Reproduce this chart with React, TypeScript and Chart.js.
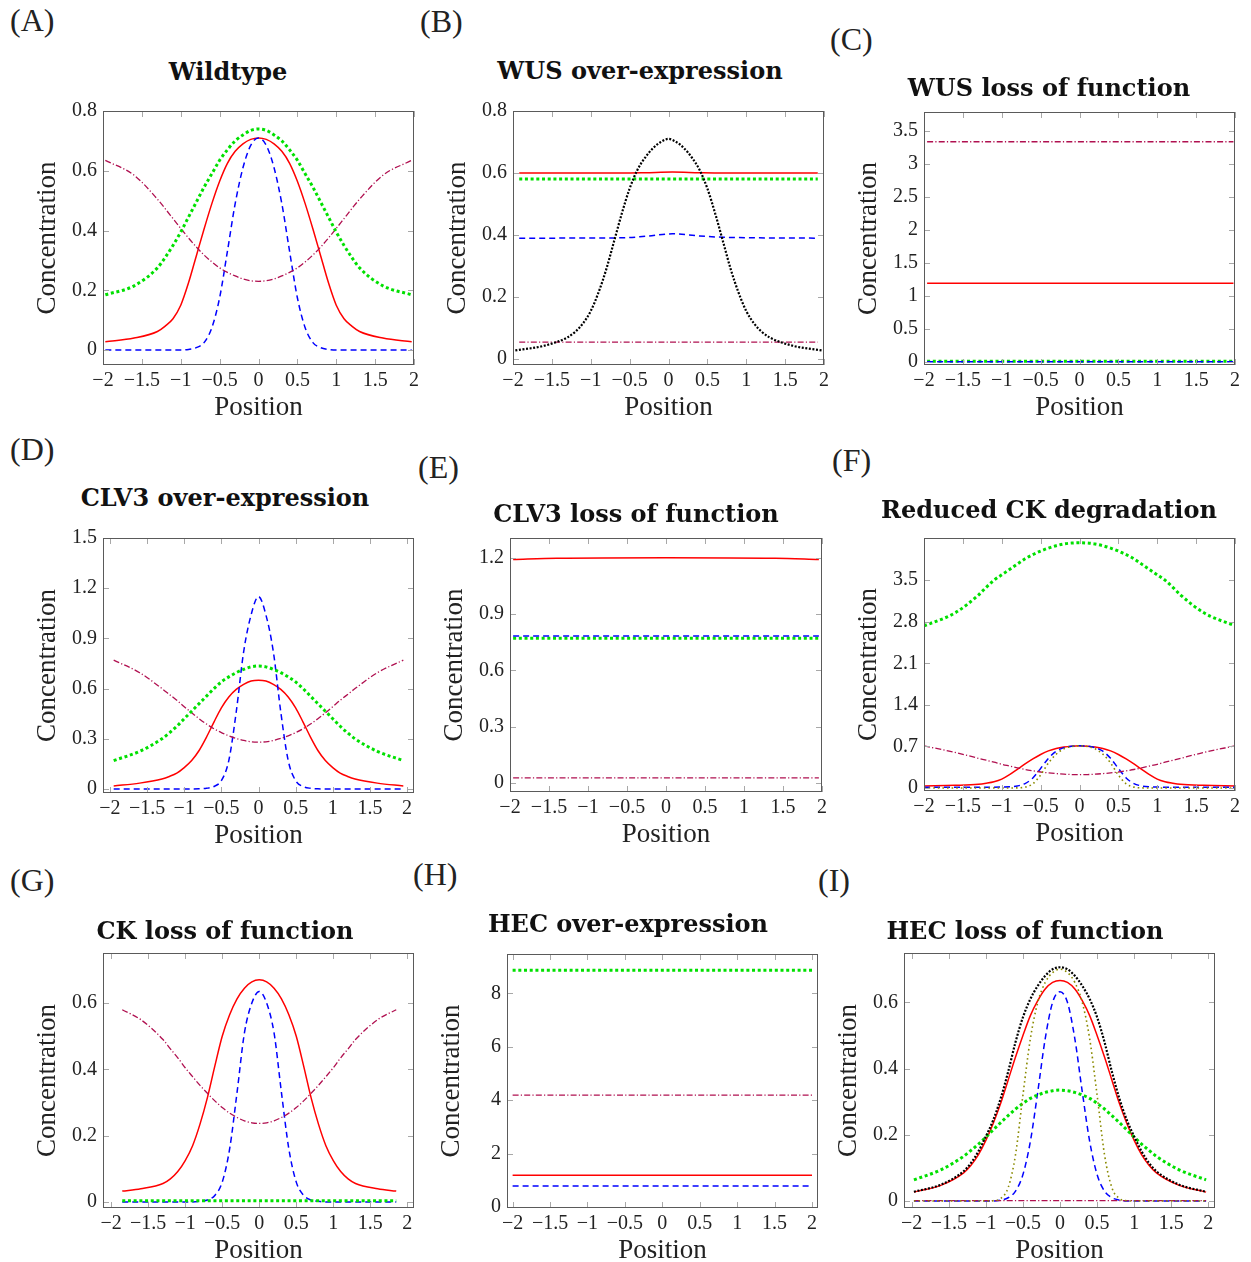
import React, { useEffect, useRef } from 'react';
import { Chart, registerables } from 'chart.js';

Chart.register(...registerables);

// ---------- x grids ----------
const X_GRID = [-2, -1.6, -1.3, -1.2, -1.1, -1, -0.9, -0.8, -0.7, -0.6, -0.5, -0.4, -0.3, -0.2, -0.1, 0, 0.1, 0.2, 0.3, 0.4, 0.5, 0.6, 0.7, 0.8, 0.9, 1, 1.1, 1.2, 1.3, 1.6, 2];
const X_GRID_197 = [-1.97, -1.6, -1.3, -1.2, -1.1, -1, -0.9, -0.8, -0.7, -0.6, -0.5, -0.4, -0.3, -0.2, -0.1, 0, 0.1, 0.2, 0.3, 0.4, 0.5, 0.6, 0.7, 0.8, 0.9, 1, 1.1, 1.2, 1.3, 1.6, 1.97];
const X_GRID_195 = [-1.95, -1.6, -1.3, -1.2, -1.1, -1, -0.9, -0.8, -0.7, -0.6, -0.5, -0.4, -0.3, -0.2, -0.1, 0, 0.1, 0.2, 0.3, 0.4, 0.5, 0.6, 0.7, 0.8, 0.9, 1, 1.1, 1.2, 1.3, 1.6, 1.95];
const X_GRID_185 = [-1.85, -1.6, -1.3, -1.2, -1.1, -1, -0.9, -0.8, -0.7, -0.6, -0.5, -0.4, -0.3, -0.2, -0.1, 0, 0.1, 0.2, 0.3, 0.4, 0.5, 0.6, 0.7, 0.8, 0.9, 1, 1.1, 1.2, 1.3, 1.6, 1.85];

// ---------- tick labels ----------
const X_TICKS = [-2, -1.5, -1, -0.5, 0, 0.5, 1, 1.5, 2];
const Y_TICKS_02 = [0, 0.2, 0.4, 0.6, 0.8];
const Y_TICKS_C = [0, 0.5, 1, 1.5, 2, 2.5, 3, 3.5];
const Y_TICKS_03 = [0, 0.3, 0.6, 0.9, 1.2, 1.5];
const Y_TICKS_E = [0, 0.3, 0.6, 0.9, 1.2];
const Y_TICKS_F = [0, 0.7, 1.4, 2.1, 2.8, 3.5];
const Y_TICKS_H = [0, 2, 4, 6, 8];
const Y_TICKS_06 = [0, 0.2, 0.4, 0.6];

// ---------- (A) Wildtype ----------
const A_RED = [0.028, 0.04, 0.062, 0.08, 0.105, 0.15, 0.225, 0.315, 0.405, 0.49, 0.565, 0.625, 0.665, 0.69, 0.705, 0.71, 0.705, 0.69, 0.665, 0.625, 0.565, 0.49, 0.405, 0.315, 0.225, 0.15, 0.105, 0.08, 0.062, 0.04, 0.028];
const A_BLUE = [0, 0, 0, 0, 0, 0, 0.002, 0.008, 0.025, 0.075, 0.175, 0.33, 0.49, 0.61, 0.685, 0.71, 0.685, 0.61, 0.49, 0.33, 0.175, 0.075, 0.025, 0.008, 0.002, 0, 0, 0, 0, 0, 0];
const A_GREEN = [0.185, 0.215, 0.275, 0.31, 0.35, 0.395, 0.445, 0.495, 0.545, 0.59, 0.635, 0.67, 0.7, 0.72, 0.735, 0.74, 0.735, 0.72, 0.7, 0.67, 0.635, 0.59, 0.545, 0.495, 0.445, 0.395, 0.35, 0.31, 0.275, 0.215, 0.185];
const A_PURPLE = [0.635, 0.585, 0.505, 0.473, 0.44, 0.407, 0.375, 0.345, 0.318, 0.295, 0.275, 0.26, 0.248, 0.238, 0.232, 0.23, 0.232, 0.238, 0.248, 0.26, 0.275, 0.295, 0.318, 0.345, 0.375, 0.407, 0.44, 0.473, 0.505, 0.585, 0.635];

// ---------- (B) WUS over-expression ----------
const B_BLACK = [0.028, 0.043, 0.07, 0.088, 0.115, 0.155, 0.215, 0.29, 0.38, 0.47, 0.55, 0.61, 0.65, 0.68, 0.7, 0.71, 0.7, 0.68, 0.65, 0.61, 0.55, 0.47, 0.38, 0.29, 0.215, 0.155, 0.115, 0.088, 0.07, 0.043, 0.028];
const X_B_FLAT = [-1.92, 1.92];
const X_B_BUMP = [-1.92, -0.6, -0.3, 0.05, 0.4, 0.7, 1.92];
const B_RED = [0.6, 0.6, 0.601, 0.603, 0.601, 0.6, 0.6];
const B_BLUE = [0.39, 0.391, 0.396, 0.404, 0.397, 0.393, 0.39];
const B_GREEN = [0.581, 0.581];
const B_PURPLE = [0.055, 0.055];

// ---------- (C) WUS loss of function ----------
const X_C = [-1.96, 1.98];
const C_PURPLE = [3.33, 3.33];
const C_RED = [1.19, 1.19];
const C_GREEN = [0.012, 0.012];
const C_BLUE = [0.004, 0.004];

// ---------- (D) CLV3 over-expression ----------
const D_RED = [0.018, 0.035, 0.06, 0.075, 0.095, 0.128, 0.17, 0.23, 0.31, 0.4, 0.485, 0.55, 0.595, 0.625, 0.645, 0.65, 0.645, 0.625, 0.595, 0.55, 0.485, 0.4, 0.31, 0.23, 0.17, 0.128, 0.095, 0.075, 0.06, 0.035, 0.018];
const D_BLUE = [0, 0, 0, 0, 0, 0, 0, 0.001, 0.004, 0.015, 0.05, 0.17, 0.46, 0.82, 1.04, 1.15, 1.04, 0.82, 0.46, 0.17, 0.05, 0.015, 0.004, 0.001, 0, 0, 0, 0, 0, 0, 0];
const D_GREEN = [0.17, 0.225, 0.3, 0.335, 0.375, 0.42, 0.465, 0.51, 0.555, 0.6, 0.64, 0.67, 0.695, 0.715, 0.73, 0.735, 0.73, 0.715, 0.695, 0.67, 0.64, 0.6, 0.555, 0.51, 0.465, 0.42, 0.375, 0.335, 0.3, 0.225, 0.17];
const D_PURPLE = [0.77, 0.695, 0.6, 0.565, 0.53, 0.492, 0.455, 0.42, 0.388, 0.36, 0.337, 0.318, 0.302, 0.29, 0.282, 0.28, 0.282, 0.29, 0.302, 0.318, 0.337, 0.36, 0.388, 0.42, 0.455, 0.492, 0.53, 0.565, 0.6, 0.695, 0.77];

// ---------- (E) CLV3 loss of function ----------
const X_E = [-1.96, 1.96];
const X_E_RED = [-1.96, -1.4, 0, 1.4, 1.96];
const E_RED = [1.19, 1.197, 1.2, 1.197, 1.19];
const E_BLUE = [0.783, 0.783];
const E_GREEN = [0.772, 0.772];
const E_PURPLE = [0.028, 0.028];

// ---------- (F) Reduced CK degradation ----------
const F_GREEN = [2.73, 2.95, 3.25, 3.38, 3.5, 3.59, 3.68, 3.77, 3.86, 3.93, 3.99, 4.04, 4.08, 4.11, 4.125, 4.13, 4.125, 4.11, 4.08, 4.04, 3.99, 3.93, 3.86, 3.77, 3.68, 3.59, 3.5, 3.38, 3.25, 2.95, 2.73];
const F_RED = [0.035, 0.045, 0.062, 0.08, 0.105, 0.15, 0.225, 0.315, 0.405, 0.49, 0.565, 0.625, 0.665, 0.69, 0.705, 0.71, 0.705, 0.69, 0.665, 0.625, 0.565, 0.49, 0.405, 0.315, 0.225, 0.15, 0.105, 0.08, 0.062, 0.045, 0.035];
const F_BLUE = [0.015, 0.015, 0.015, 0.015, 0.015, 0.016, 0.02, 0.035, 0.075, 0.17, 0.33, 0.5, 0.62, 0.68, 0.705, 0.71, 0.705, 0.68, 0.62, 0.5, 0.33, 0.17, 0.075, 0.035, 0.02, 0.016, 0.015, 0.015, 0.015, 0.015, 0.015];
const F_OLIVE = [0, 0, 0, 0, 0, 0, 0, 0.003, 0.015, 0.07, 0.22, 0.42, 0.57, 0.66, 0.7, 0.71, 0.7, 0.66, 0.57, 0.42, 0.22, 0.07, 0.015, 0.003, 0, 0, 0, 0, 0, 0, 0];
const F_PURPLE = [0.71, 0.6, 0.5, 0.468, 0.435, 0.4, 0.37, 0.34, 0.312, 0.29, 0.27, 0.255, 0.243, 0.233, 0.227, 0.225, 0.227, 0.233, 0.243, 0.255, 0.27, 0.29, 0.312, 0.34, 0.37, 0.4, 0.435, 0.468, 0.5, 0.6, 0.71];

// ---------- (G) CK loss of function ----------
const G_RED = [0.033, 0.04, 0.056, 0.07, 0.092, 0.125, 0.17, 0.235, 0.315, 0.41, 0.5, 0.565, 0.613, 0.645, 0.664, 0.67, 0.664, 0.645, 0.613, 0.565, 0.5, 0.41, 0.315, 0.235, 0.17, 0.125, 0.092, 0.07, 0.056, 0.04, 0.033];
const G_BLUE = [0, 0, 0, 0, 0, 0, 0, 0.002, 0.006, 0.02, 0.06, 0.16, 0.33, 0.51, 0.6, 0.635, 0.6, 0.51, 0.33, 0.16, 0.06, 0.02, 0.006, 0.002, 0, 0, 0, 0, 0, 0, 0];
const G_PURPLE = [0.58, 0.55, 0.49, 0.462, 0.435, 0.405, 0.378, 0.352, 0.328, 0.305, 0.285, 0.268, 0.255, 0.245, 0.239, 0.237, 0.239, 0.245, 0.255, 0.268, 0.285, 0.305, 0.328, 0.352, 0.378, 0.405, 0.435, 0.462, 0.49, 0.55, 0.58];
const X_G_FLAT = [-1.85, 1.85];
const G_GREEN = [0.004, 0.004];

// ---------- (H) HEC over-expression ----------
const X_H = [-2, 2];
const H_GREEN = [8.87, 8.87];
const H_PURPLE = [4.19, 4.19];
const H_RED = [1.19, 1.19];
const H_BLUE = [0.78, 0.78];

// ---------- (I) HEC loss of function ----------
const I_BLACK = [0.028, 0.05, 0.09, 0.115, 0.15, 0.195, 0.245, 0.31, 0.39, 0.48, 0.555, 0.61, 0.65, 0.68, 0.7, 0.706, 0.7, 0.68, 0.65, 0.61, 0.555, 0.48, 0.39, 0.31, 0.245, 0.195, 0.15, 0.115, 0.09, 0.05, 0.028];
const I_RED = [0.027, 0.048, 0.085, 0.108, 0.14, 0.183, 0.235, 0.295, 0.365, 0.435, 0.5, 0.56, 0.605, 0.64, 0.66, 0.666, 0.66, 0.64, 0.605, 0.56, 0.5, 0.435, 0.365, 0.295, 0.235, 0.183, 0.14, 0.108, 0.085, 0.048, 0.027];
const I_OLIVE = [0, 0, 0, 0, 0, 0, 0.001, 0.008, 0.04, 0.14, 0.32, 0.49, 0.6, 0.66, 0.69, 0.7, 0.69, 0.66, 0.6, 0.49, 0.32, 0.14, 0.04, 0.008, 0.001, 0, 0, 0, 0, 0, 0];
const I_BLUE = [0, 0, 0, 0, 0, 0, 0, 0.003, 0.01, 0.03, 0.08, 0.18, 0.33, 0.49, 0.6, 0.632, 0.6, 0.49, 0.33, 0.18, 0.08, 0.03, 0.01, 0.003, 0, 0, 0, 0, 0, 0, 0];
const I_GREEN = [0.064, 0.095, 0.135, 0.153, 0.172, 0.193, 0.215, 0.237, 0.258, 0.278, 0.295, 0.31, 0.32, 0.328, 0.333, 0.335, 0.333, 0.328, 0.32, 0.31, 0.295, 0.278, 0.258, 0.237, 0.215, 0.193, 0.172, 0.153, 0.135, 0.095, 0.064];
const X_I_FLAT = [-1.97, 1.97];
const I_PURPLE = [0.001, 0.001];

// ---------- styles ----------
const SERIF = '"Liberation Serif", "Times New Roman", serif';
const TITLE_FONT = '"DejaVu Serif", serif';
const LINE_STYLES: Record<string, any> = {
  red: { borderColor: '#ff0000', borderWidth: 1.5, borderDash: [] },
  blue: { borderColor: '#0000ff', borderWidth: 1.5, borderDash: [6, 4] },
  green: { borderColor: '#00e000', borderWidth: 3, borderDash: [3, 2.7] },
  purple: { borderColor: '#b01050', borderWidth: 1.3, borderDash: [6, 2.2, 1.2, 2.2] },
  black: { borderColor: '#000000', borderWidth: 2.2, borderDash: [2, 1.6] },
  olive: { borderColor: '#8a8a00', borderWidth: 1.6, borderDash: [1.6, 3] },
};

const PAD_L = 75;
const PAD_T = 14;
const PAD_R = 18;
const PAD_B = 60;

type Panel = {
  letter: string;
  title: string;
  box: [number, number, number, number];
  xr: [number, number];
  yr: [number, number];
  yTicks: number[];
  letterAt: [number, number];
  titleAt: [number, number];
  series: [string, number[], number[]][];
};

const PANELS: Panel[] = [
  {
    letter: '(A)', title: 'Wildtype', box: [103, 107, 414, 365], xr: [-2, 2], yr: [-0.05, 0.8], yTicks: Y_TICKS_02,
    letterAt: [10, 31], titleAt: [228, 80],
    series: [['green', X_GRID_197, A_GREEN], ['purple', X_GRID_197, A_PURPLE], ['blue', X_GRID_197, A_BLUE], ['red', X_GRID_197, A_RED]],
  },
  {
    letter: '(B)', title: 'WUS over-expression', box: [513, 107, 824, 365], xr: [-2, 2], yr: [-0.019, 0.8], yTicks: Y_TICKS_02,
    letterAt: [420, 32], titleAt: [640, 79],
    series: [['black', X_GRID_197, B_BLACK], ['purple', X_B_FLAT, B_PURPLE], ['green', X_B_FLAT, B_GREEN], ['blue', X_B_BUMP, B_BLUE], ['red', X_B_BUMP, B_RED]],
  },
  {
    letter: '(C)', title: 'WUS loss of function', box: [924, 108, 1235, 365], xr: [-2, 2], yr: [-0.045, 3.78], yTicks: Y_TICKS_C,
    letterAt: [830, 49.5], titleAt: [1049, 96],
    series: [['purple', X_C, C_PURPLE], ['blue', X_C, C_BLUE], ['green', X_C, C_GREEN], ['red', X_C, C_RED]],
  },
  {
    letter: '(D)', title: 'CLV3 over-expression', box: [103, 534, 414, 793], xr: [-2.094, 2.094], yr: [-0.024, 1.5], yTicks: Y_TICKS_03,
    letterAt: [10, 459.5], titleAt: [225, 506],
    series: [['green', X_GRID_195, D_GREEN], ['purple', X_GRID_195, D_PURPLE], ['blue', X_GRID_195, D_BLUE], ['red', X_GRID_195, D_RED]],
  },
  {
    letter: '(E)', title: 'CLV3 loss of function', box: [510, 534, 822, 792], xr: [-2, 2], yr: [-0.047, 1.305], yTicks: Y_TICKS_E,
    letterAt: [418, 478], titleAt: [636, 522.7],
    series: [['purple', X_E, E_PURPLE], ['blue', X_E, E_BLUE], ['green', X_E, E_GREEN], ['red', X_E_RED, E_RED]],
  },
  {
    letter: '(F)', title: 'Reduced CK degradation', box: [924, 534, 1235, 791], xr: [-2, 2], yr: [-0.05, 4.21], yTicks: Y_TICKS_F,
    letterAt: [832, 471], titleAt: [1049, 518.3],
    series: [['green', X_GRID, F_GREEN], ['olive', X_GRID, F_OLIVE], ['purple', X_GRID, F_PURPLE], ['blue', X_GRID, F_BLUE], ['red', X_GRID, F_RED]],
  },
  {
    letter: '(G)', title: 'CK loss of function', box: [103, 949, 414, 1208], xr: [-2.11, 2.09], yr: [-0.018, 0.751], yTicks: Y_TICKS_06,
    letterAt: [10, 891], titleAt: [225, 939],
    series: [['green', X_G_FLAT, G_GREEN], ['purple', X_GRID_185, G_PURPLE], ['blue', X_GRID_185, G_BLUE], ['red', X_GRID_185, G_RED]],
  },
  {
    letter: '(H)', title: 'HEC over-expression', box: [507, 950, 818, 1208], xr: [-2.075, 2.08], yr: [-0.04, 9.48], yTicks: Y_TICKS_H,
    letterAt: [413, 885], titleAt: [628, 932.7],
    series: [['green', X_H, H_GREEN], ['purple', X_H, H_PURPLE], ['blue', X_H, H_BLUE], ['red', X_H, H_RED]],
  },
  {
    letter: '(I)', title: 'HEC loss of function', box: [904, 949, 1215, 1208], xr: [-2.104, 2.09], yr: [-0.021, 0.749], yTicks: Y_TICKS_06,
    letterAt: [818, 891], titleAt: [1025, 939],
    series: [['black', X_GRID_197, I_BLACK], ['olive', X_GRID_197, I_OLIVE], ['green', X_GRID_197, I_GREEN], ['purple', X_I_FLAT, I_PURPLE], ['blue', X_GRID_197, I_BLUE], ['red', X_GRID_197, I_RED]],
  },
];

const fmt = (v: number) => {
  const s = String(Math.round(v * 100) / 100);
  return s.replace('-', '\u2212');
};

const framePlugin = {
  id: 'pgfFrame',
  afterDatasetsDraw(chart: any) {
    const { ctx, chartArea: a, scales } = chart;
    const xs = scales.x;
    const ys = scales.y;
    const len = 6;
    ctx.save();
    ctx.setLineDash([]);
    ctx.lineWidth = 1;
    ctx.strokeStyle = '#a8a8a8';
    ctx.beginPath();
    xs.ticks.forEach((t: any) => {
      const p = Math.round(xs.getPixelForValue(t.value)) + 0.5;
      ctx.moveTo(p, a.bottom);
      ctx.lineTo(p, a.bottom - len);
      ctx.moveTo(p, a.top);
      ctx.lineTo(p, a.top + len);
    });
    ys.ticks.forEach((t: any) => {
      const p = Math.round(ys.getPixelForValue(t.value)) + 0.5;
      ctx.moveTo(a.left, p);
      ctx.lineTo(a.left + len, p);
      ctx.moveTo(a.right, p);
      ctx.lineTo(a.right - len, p);
    });
    ctx.stroke();
    ctx.strokeStyle = '#5a5a5a';
    ctx.strokeRect(Math.round(a.left) + 0.5, Math.round(a.top) + 0.5, Math.round(a.right - a.left) - 1, Math.round(a.bottom - a.top) - 1);
    ctx.restore();
  },
};

function PanelChart({ p }: { p: Panel }) {
  const ref = useRef<HTMLCanvasElement>(null);
  const [L, T, R, B] = p.box;
  const left = L - PAD_L;
  const top = T - PAD_T;
  const width = R - L + PAD_L + PAD_R;
  const height = B - T + PAD_T + PAD_B;

  useEffect(() => {
    const datasets = p.series.map(([style, xs, ys]) => ({
      data: xs.map((x, i) => ({ x, y: ys[i] })),
      ...LINE_STYLES[style],
      pointRadius: 0,
      fill: false,
      cubicInterpolationMode: 'monotone',
      borderCapStyle: 'butt',
    }));
    const chart = new Chart(ref.current as HTMLCanvasElement, {
      type: 'line',
      data: { datasets } as any,
      options: {
        responsive: false,
        animation: false,
        devicePixelRatio: 1,
        events: [],
        layout: { padding: { top: PAD_T, right: PAD_R, left: 0, bottom: 0 } },
        plugins: { legend: { display: false }, tooltip: { enabled: false }, title: { display: false } },
        scales: {
          x: {
            type: 'linear',
            min: p.xr[0],
            max: p.xr[1],
            grid: { display: false, drawTicks: false },
            border: { display: false },
            ticks: { font: { family: SERIF, size: 20 }, color: '#222', padding: 4, autoSkip: false, maxRotation: 0, callback: (v: any) => fmt(Number(v)) },
            afterBuildTicks: (s: any) => { s.ticks = X_TICKS.map((v) => ({ value: v })); },
            afterFit: (s: any) => { s.height = PAD_B; },
            title: { display: true, text: 'Position', font: { family: SERIF, size: 27 }, color: '#222', padding: { top: 0, bottom: 1 } },
          },
          y: {
            type: 'linear',
            min: p.yr[0],
            max: p.yr[1],
            grid: { display: false, drawTicks: false },
            border: { display: false },
            ticks: { font: { family: SERIF, size: 20 }, color: '#222', padding: 6, autoSkip: false, callback: (v: any) => fmt(Number(v)) },
            afterBuildTicks: (s: any) => { s.ticks = p.yTicks.map((v) => ({ value: v })); },
            afterFit: (s: any) => { s.width = PAD_L; },
            title: { display: true, text: 'Concentration', font: { family: SERIF, size: 27 }, color: '#222', padding: { top: 4, bottom: 0 } },
          },
        },
      } as any,
      plugins: [framePlugin],
    });
    return () => chart.destroy();
  }, []);

  return (
    <canvas
      ref={ref}
      width={width}
      height={height}
      style={{ position: 'absolute', left, top, width, height }}
    />
  );
}

export default function App() {
  return (
    <div style={{ position: 'absolute', left: 0, top: 0, width: 1251, height: 1262, background: '#ffffff', overflow: 'hidden' }}>
      {PANELS.map((p) => (
        <React.Fragment key={p.letter}>
          <PanelChart p={p} />
          <div
            style={{
              position: 'absolute', left: p.letterAt[0], top: p.letterAt[1] - 26.8,
              fontFamily: SERIF, fontSize: 32, lineHeight: '32px', color: '#222', whiteSpace: 'nowrap',
            }}
          >
            {p.letter}
          </div>
          <div
            style={{
              position: 'absolute', left: p.titleAt[0], top: p.titleAt[1] - 20.3, transform: 'translateX(-50%)',
              fontFamily: TITLE_FONT, fontWeight: 'bold', fontSize: 24, lineHeight: '24px', color: '#111', whiteSpace: 'nowrap',
            }}
          >
            {p.title}
          </div>
        </React.Fragment>
      ))}
    </div>
  );
}
